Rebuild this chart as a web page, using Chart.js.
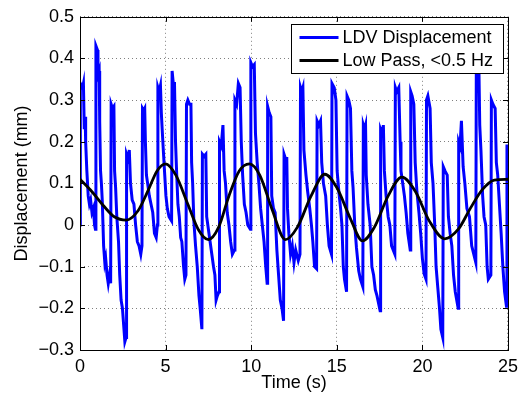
<!DOCTYPE html>
<html>
<head>
<meta charset="utf-8">
<script src="https://cdn.jsdelivr.net/npm/chart.js@4.4.1/dist/chart.umd.min.js"></script>
<style>
  html, body { margin: 0; padding: 0; background: #fff; }
  #wrap { width: 524px; height: 402px; }
</style>
</head>
<body>
<div id="wrap"><canvas id="disp"></canvas></div>
<script>
// LDV signal (time in s, displacement in mm)
const ldvTime = [
  0.0, 0.02, 0.15, 0.2, 0.25, 0.3, 0.33, 0.4, 0.48, 0.55, 0.62, 0.7, 0.78, 0.85, 0.9,
  0.93, 1.02, 1.05, 1.12, 1.15, 1.2, 1.25, 1.3, 1.38, 1.45, 1.5, 1.58, 1.65, 1.72, 1.79,
  1.82, 1.9, 1.98, 2.02, 2.08, 2.15, 2.25, 2.32, 2.4, 2.48, 2.55, 2.62, 2.69,
  2.72, 2.8, 2.88, 2.95, 3.05, 3.15, 3.25, 3.35, 3.45, 3.55, 3.62,
  3.65, 3.72, 3.78, 3.82, 3.88, 3.95, 4.05, 4.15, 4.25, 4.35, 4.45, 4.52,
  4.55, 4.62, 4.7, 4.75, 4.8, 4.88, 4.95, 5.02, 5.1, 5.2, 5.35,
  5.38, 5.45, 5.52, 5.58, 5.65, 5.72, 5.8, 5.88, 5.95, 6.05, 6.12, 6.19,
  6.22, 6.3, 6.4, 6.48, 6.52, 6.58, 6.65, 6.75, 6.85, 6.95, 7.02, 7.12,
  7.15, 7.25, 7.35, 7.4, 7.5, 7.6, 7.7, 7.8, 7.88, 7.95, 8.02, 8.12,
  8.15, 8.25, 8.35, 8.42, 8.5, 8.6, 8.7, 8.8, 8.9, 9.02,
  9.05, 9.15, 9.25, 9.35, 9.42, 9.5, 9.6, 9.7, 9.8, 9.95,
  9.98, 10.08, 10.18, 10.25, 10.35, 10.45, 10.55, 10.65, 10.75, 10.85, 10.93,
  10.96, 11.05, 11.15, 11.2, 11.3, 11.4, 11.5, 11.6, 11.7, 11.8, 11.89,
  11.92, 12.0, 12.08, 12.12, 12.2, 12.3, 12.4, 12.5, 12.6, 12.75, 12.85,
  12.88, 12.95, 13.02, 13.08, 13.2, 13.3, 13.42, 13.52, 13.6, 13.7, 13.82,
  13.85, 13.95, 14.05, 14.12, 14.22, 14.35, 14.45, 14.55, 14.69,
  14.72, 14.85, 14.95, 15.02, 15.12, 15.22, 15.3, 15.38, 15.45, 15.57,
  15.6, 15.7, 15.8, 15.88, 15.95, 16.05, 16.15, 16.28, 16.38, 16.52,
  16.55, 16.62, 16.68, 16.72, 16.82, 16.95, 17.05, 17.15, 17.25, 17.35, 17.53,
  17.56, 17.65, 17.72, 17.78, 17.88, 18.0, 18.1, 18.2, 18.39,
  18.42, 18.5, 18.62, 18.7, 18.75, 18.85, 18.95, 19.05, 19.15, 19.29,
  19.32, 19.4, 19.5, 19.58, 19.68, 19.8, 19.9, 20.0, 20.1, 20.21,
  20.24, 20.32, 20.45, 20.52, 20.62, 20.72, 20.8, 20.9, 21.0, 21.08, 21.19,
  21.22, 21.32, 21.45, 21.52, 21.62, 21.72, 21.82, 21.92, 22.09,
  22.12, 22.2, 22.28, 22.38, 22.48, 22.6, 22.75, 22.88, 23.0, 23.12,
  23.15, 23.22, 23.3, 23.35, 23.42, 23.52, 23.6, 23.7, 23.78, 23.85, 24.0,
  24.03, 24.12, 24.25, 24.32, 24.4, 24.5, 24.6, 24.7, 24.8, 24.91,
  24.94, 25.0
];
const ldvDisp = [
  0.0, 0.34, 0.33, 0.34, 0.23, 0.26, 0.2, 0.13, 0.07, 0.05, 0.06, 0.03, 0.04, 0.0, -0.01,
  0.43, 0.42, 0.36, 0.37, 0.25, 0.13, 0.1, 0.06, -0.05, -0.09, -0.08, -0.12, -0.14, -0.12, -0.14,
  0.29, 0.28, 0.285, 0.13, 0.09, 0.02, -0.04, -0.12, -0.18, -0.2, -0.24, -0.28, -0.27,
  0.17, 0.16, 0.18, 0.1, 0.06, 0.05, 0.0, -0.04, -0.05, -0.07, -0.05,
  0.28, 0.275, 0.28, 0.2, 0.12, 0.1, 0.07, 0.05, 0.03, -0.02, -0.03, 0.0,
  0.33, 0.32, 0.335, 0.27, 0.23, 0.17, 0.12, 0.07, 0.04, 0.02, 0.01,
  0.37, 0.34, 0.34, 0.2, 0.12, 0.05, 0.02, -0.03, -0.04, -0.1, -0.13, -0.12,
  0.29, 0.3, 0.29, 0.29, 0.15, 0.1, 0.01, -0.05, -0.1, -0.17, -0.2, -0.25,
  0.17, 0.165, 0.17, 0.02, -0.01, -0.04, -0.07, -0.1, -0.12, -0.18, -0.17, -0.16,
  0.2, 0.19, 0.24, 0.13, 0.1, 0.03, 0.0, -0.04, -0.07, -0.06,
  0.3, 0.29, 0.34, 0.33, 0.2, 0.12, 0.05, 0.03, 0.0, -0.01,
  0.39, 0.38, 0.385, 0.22, 0.15, 0.1, 0.04, 0.0, -0.04, -0.1, -0.14,
  0.285, 0.27, 0.26, 0.07, 0.04, 0.03, -0.06, -0.12, -0.18, -0.2, -0.23,
  0.17, 0.16, 0.16, 0.04, -0.02, -0.07, -0.05, -0.09, -0.06, -0.085, -0.07,
  0.33, 0.32, 0.33, 0.18, 0.12, 0.08, 0.04, 0.0, -0.04, -0.1, -0.105,
  0.25, 0.24, 0.25, 0.15, 0.1, 0.07, 0.0, -0.05, -0.07,
  0.34, 0.33, 0.3, 0.13, 0.08, 0.04, 0.0, -0.1, -0.13, -0.16,
  0.31, 0.3, 0.28, 0.13, 0.09, 0.0, -0.055, -0.11, -0.13, -0.148,
  0.24, 0.23, 0.24, 0.12, 0.05, 0.0, -0.1, -0.12, -0.155, -0.17, -0.206,
  0.23, 0.22, 0.24, 0.13, 0.07, 0.02, 0.0, -0.05, -0.07,
  0.33, 0.32, 0.33, 0.2, 0.13, 0.1, 0.07, 0.03, -0.02, -0.06,
  0.32, 0.31, 0.29, 0.15, 0.08, 0.03, -0.02, -0.08, -0.117, -0.13,
  0.3, 0.31, 0.28, 0.15, 0.1, 0.0, -0.1, -0.15, -0.2, -0.25, -0.27,
  0.14, 0.13, 0.12, 0.02, -0.02, -0.05, -0.12, -0.16, -0.2,
  0.2, 0.19, 0.25, 0.14, 0.1, 0.04, 0.02, -0.05, -0.07, -0.09,
  0.39, 0.37, 0.38, 0.24, 0.18, 0.07, 0.02, 0.0, -0.1, -0.13, -0.12,
  0.3, 0.29, 0.28, 0.15, 0.12, 0.05, -0.02, -0.1, -0.16, -0.195,
  0.19, 0.19
];

// low pass (<0.5 Hz) curve
const lpTime = [0, 0.7, 1.4, 2.0, 2.7, 3.4, 4.0, 4.5, 5.0, 5.6, 6.3, 6.9, 7.5, 8.1, 8.7, 9.3, 9.9, 10.5, 11.2, 12.0,
  12.7, 13.5, 14.3, 15.0, 15.8, 16.5, 17.2, 18.0, 18.8, 19.6, 20.4, 21.3, 22.1, 22.8, 23.5, 24.2, 25];
const lpDisp = [0.11, 0.08, 0.045, 0.02, 0.012, 0.035, 0.085, 0.13, 0.147, 0.12, 0.05, -0.01, -0.035, -0.005, 0.07, 0.13, 0.147, 0.12, 0.04, -0.035,
  -0.005, 0.07, 0.122, 0.09, 0.015, -0.038, -0.005, 0.07, 0.115, 0.08, 0.01, -0.033, -0.01, 0.04, 0.085, 0.108, 0.11];

const seriesNames = ["LDV Displacement", "Low Pass, <0.5 Hz"];
const seriesColors = ["#0000ff", "#000000"];

const FONT = "'Liberation Sans', Arial, Helvetica, sans-serif";

const toPts = (xs, ys) => xs.map((x, i) => ({ x: x, y: ys[i] }));

const fmtTick = v => {
  const r = Math.round(v * 10) / 10;
  if (r === 0) return "0";
  return (Number.isInteger(r) ? String(r) : r.toFixed(1)).replace("-", "\u2212");
};

// frame, inward tick marks and boxed legend (matlab look)
const matlabBox = {
  id: "matlabBox",
  afterDraw(chart) {
    const { ctx, chartArea: a, scales } = chart;
    ctx.save();
    ctx.strokeStyle = "#000";
    ctx.lineWidth = 1;
    ctx.beginPath();
    scales.x.ticks.forEach(t => {
      const px = Math.round(scales.x.getPixelForValue(t.value)) + 0.5;
      ctx.moveTo(px, a.bottom); ctx.lineTo(px, a.bottom - 5);
      ctx.moveTo(px, a.top); ctx.lineTo(px, a.top + 5);
    });
    scales.y.ticks.forEach(t => {
      const py = Math.round(scales.y.getPixelForValue(t.value)) + 0.5;
      ctx.moveTo(a.left, py); ctx.lineTo(a.left + 5, py);
      ctx.moveTo(a.right, py); ctx.lineTo(a.right - 5, py);
    });
    ctx.stroke();
    ctx.strokeRect(Math.round(a.left) + 0.5, Math.round(a.top) + 0.5,
      Math.round(a.right - a.left), Math.round(a.bottom - a.top));

    // legend
    const bw = 212, bh = 49;
    const bx = Math.round(a.right - 5 - bw) + 0.5, by = Math.round(a.top + 7) + 0.5;
    ctx.fillStyle = "#fff";
    ctx.fillRect(bx, by, bw, bh);
    ctx.strokeRect(bx, by, bw, bh);
    ctx.font = "18px " + FONT;
    ctx.textBaseline = "middle";
    seriesNames.forEach((name, i) => {
      const cy = by + 13 + i * 23;
      ctx.strokeStyle = seriesColors[i];
      ctx.lineWidth = 2.8;
      ctx.beginPath();
      ctx.moveTo(bx + 8, cy); ctx.lineTo(bx + 47, cy);
      ctx.stroke();
      ctx.fillStyle = "#000";
      ctx.fillText(name, bx + 51, cy + 1);
    });
    ctx.restore();
  }
};

const config = {
  type: "line",
  data: {
    datasets: [
      {
        label: seriesNames[0],
        data: toPts(ldvTime, ldvDisp),
        borderColor: seriesColors[0],
        borderWidth: 3,
        pointRadius: 0,
        tension: 0,
        order: 1,
      },
      {
        label: seriesNames[1],
        data: toPts(lpTime, lpDisp),
        borderColor: seriesColors[1],
        borderWidth: 2.8,
        pointRadius: 0,
        cubicInterpolationMode: "monotone",
        order: 0,
      },
    ],
  },
  options: {
    responsive: true,
    maintainAspectRatio: false,
    animation: false,
    layout: { padding: { top: 8, right: 12, left: 0, bottom: 0 } },
    plugins: { legend: { display: false }, tooltip: { enabled: false } },
    scales: {
      x: {
        type: "linear",
        min: 0,
        max: 25,
        afterFit: s => { s.height = 52; },
        ticks: { stepSize: 5, padding: 6, color: "#000", font: { family: FONT, size: 18 }, maxRotation: 0 },
        grid: { color: "#808080", drawTicks: false, lineWidth: 1 },
        border: { display: false, dash: [1, 3] },
        title: { display: true, text: "Time (s)", color: "#000", font: { family: FONT, size: 18 }, padding: { top: 0, bottom: 8 } },
      },
      y: {
        min: -0.3,
        max: 0.5,
        afterFit: s => { s.width = 80; },
        ticks: { stepSize: 0.1, padding: 6, color: "#000", font: { family: FONT, size: 18 }, callback: fmtTick },
        grid: { color: "#808080", drawTicks: false, lineWidth: 1 },
        border: { display: false, dash: [1, 3] },
        title: { display: true, text: "Displacement (mm)", color: "#000", font: { family: FONT, size: 18 }, padding: { top: 11, bottom: 0 } },
      },
    },
  },
  plugins: [matlabBox],
};

const dispChart = new Chart(document.getElementById("disp"), config);
</script>
</body>
</html>
